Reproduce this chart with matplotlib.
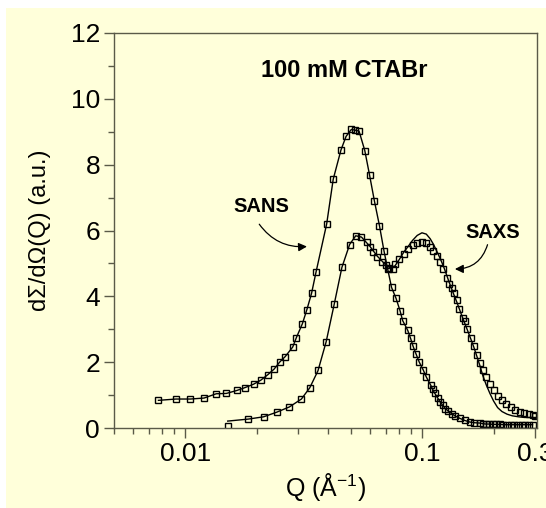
import matplotlib
matplotlib.use("Agg")
import matplotlib.pyplot as plt
from matplotlib.patches import FancyArrowPatch, Rectangle

# SANS data (Q in 1/A, intensity a.u.)
sans_q = [0.0077, 0.00913, 0.0105, 0.0120, 0.0135, 0.0149, 0.0165, 0.0179, 0.0194,
          0.0208, 0.0223, 0.0237, 0.0250, 0.0264, 0.0284, 0.0294, 0.0312, 0.0326,
          0.0341, 0.0356, 0.0395, 0.0421, 0.0454, 0.0477, 0.0502, 0.0519, 0.0541,
          0.0572, 0.0599, 0.0628, 0.0660, 0.0689, 0.0715, 0.0742, 0.0775, 0.0806,
          0.0827, 0.0868, 0.0893, 0.0915, 0.094, 0.097, 0.101, 0.104, 0.1086,
          0.1105, 0.113, 0.116, 0.119, 0.122, 0.125, 0.129, 0.133, 0.138, 0.1445,
          0.151, 0.159, 0.166, 0.175, 0.180, 0.186, 0.192, 0.198, 0.205, 0.212,
          0.220, 0.228, 0.236, 0.245, 0.254, 0.263, 0.272, 0.282, 0.292]
sans_i = [0.84, 0.88, 0.88, 0.91, 1.04, 1.05, 1.14, 1.23, 1.33,
          1.45, 1.62, 1.79, 2.00, 2.17, 2.46, 2.74, 3.17, 3.60,
          4.09, 4.73, 6.20, 7.56, 8.45, 8.86, 9.07, 9.05, 9.02,
          8.43, 7.69, 6.90, 6.14, 5.39, 4.82, 4.27, 3.94, 3.56,
          3.26, 2.97, 2.72, 2.48, 2.26, 2.01, 1.76, 1.55, 1.30,
          1.18, 1.05, 0.92, 0.79, 0.69, 0.59, 0.51, 0.44, 0.36, 0.29,
          0.23, 0.18, 0.16, 0.15, 0.13, 0.12, 0.12, 0.11, 0.11, 0.11,
          0.10, 0.10, 0.10, 0.10, 0.10, 0.10, 0.10, 0.10, 0.10]

# SAXS data
saxs_q = [0.0151, 0.0184, 0.0214, 0.0243, 0.0275, 0.0309, 0.0335, 0.0363, 0.0393,
          0.0425, 0.0458, 0.0494, 0.0524, 0.0554, 0.0582, 0.0601, 0.0621, 0.0646,
          0.0674, 0.0702, 0.0725, 0.0750, 0.0766, 0.0800, 0.0837, 0.0873, 0.0910,
          0.0952, 0.0997, 0.104, 0.108, 0.1115, 0.115, 0.119, 0.1228, 0.1268,
          0.130, 0.133, 0.136, 0.140, 0.1435, 0.148, 0.152, 0.155, 0.160, 0.165,
          0.170, 0.175, 0.180, 0.186, 0.193, 0.200, 0.208, 0.217, 0.226, 0.236,
          0.247, 0.258, 0.270, 0.282, 0.292, 0.300]
saxs_i = [0.05, 0.26, 0.33, 0.49, 0.64, 0.87, 1.23, 1.76, 2.62,
          3.77, 4.88, 5.57, 5.84, 5.79, 5.66, 5.51, 5.35, 5.20,
          5.05, 4.96, 4.86, 4.84, 4.98, 5.13, 5.30, 5.44, 5.57,
          5.63, 5.64, 5.61, 5.51, 5.37, 5.22, 5.04, 4.84, 4.55,
          4.38, 4.25, 4.09, 3.89, 3.62, 3.35, 3.24, 3.02, 2.74, 2.48,
          2.22, 1.98, 1.76, 1.55, 1.33, 1.14, 0.98, 0.84, 0.72, 0.63,
          0.55, 0.50, 0.46, 0.43, 0.40, 0.36]

# SAXS fit curve
saxs_fit_q = [0.0151, 0.0184, 0.0214, 0.0243, 0.0275, 0.0309, 0.0335, 0.0363, 0.0393,
              0.0425, 0.0458, 0.0494, 0.0524, 0.0554, 0.0601, 0.0646, 0.0702, 0.0735,
              0.0766, 0.0800, 0.0837, 0.0873, 0.0910, 0.0952, 0.0997, 0.104, 0.108,
              0.1115, 0.115, 0.119, 0.1228, 0.126, 0.130, 0.136, 0.140, 0.148, 0.155,
              0.160, 0.165, 0.170, 0.175, 0.180, 0.186, 0.193, 0.200, 0.208, 0.217,
              0.228, 0.240, 0.255, 0.270, 0.300]
saxs_fit_i = [0.21, 0.27, 0.34, 0.48, 0.64, 0.88, 1.22, 1.74, 2.62,
              3.76, 4.88, 5.58, 5.84, 5.80, 5.52, 5.22, 4.95, 4.86,
              4.92, 5.12, 5.35, 5.52, 5.70, 5.85, 5.93, 5.89, 5.75,
              5.58, 5.38, 5.15, 4.92, 4.70, 4.42, 4.05, 3.82, 3.35, 2.98,
              2.72, 2.46, 2.18, 1.90, 1.60, 1.32, 1.05, 0.82, 0.62, 0.50,
              0.42, 0.37, 0.34, 0.32, 0.32]

x_ticks = [0.01, 0.1, 0.3]
x_labels = ["0.01", "0.1", "0.3"]
y_ticks = [0, 2, 4, 6, 8, 10, 12]

cream = "#ffffda"
spine_col = "#5a5a48"

plt.rcParams['font.family'] = ['Liberation Sans', 'DejaVu Sans']

fig = plt.figure(figsize=(5.46, 5.08), dpi=100, facecolor=cream)
# white strips on the left and top edge
fig.patches.append(Rectangle((0, 0), 6 / 546, 1, transform=fig.transFigure,
                             facecolor="white", edgecolor="none", zorder=0))
fig.patches.append(Rectangle((0, 1 - 8 / 508), 1, 8 / 508, transform=fig.transFigure,
                             facecolor="white", edgecolor="none", zorder=0))

ax = fig.add_axes([114 / 546, 1 - 428 / 508, (537 - 114) / 546, (428 - 33) / 508])
ax.set_facecolor(cream)

ax.plot(sans_q, sans_i, color="black", lw=1.0)
ax.plot(sans_q, sans_i, ls="none", marker="s", ms=5, mfc="none", mec="black", mew=1.0)
ax.plot(saxs_fit_q, saxs_fit_i, color="black", lw=1.0)
ax.plot(saxs_q, saxs_i, ls="none", marker="s", ms=5, mfc="none", mec="black", mew=1.0)

ax.set_xscale("log")
ax.set_xlim(0.005, 0.305)
ax.set_ylim(0, 12)
ax.set_xticks(x_ticks)
ax.set_xticklabels(x_labels)
ax.set_yticks(y_ticks)
ax.set_yticks([1, 3, 5, 7, 9, 11], minor=True)

for s in ax.spines.values():
    s.set_color(spine_col)
    s.set_linewidth(1.0)
ax.tick_params(which="major", direction="out", length=7, width=1, color=spine_col,
               labelsize=19, pad=3)
ax.tick_params(which="minor", direction="out", length=4, width=1, color=spine_col)
ax.tick_params(axis="x", which="major", pad=3)

ax.set_xlabel("Q (Å$^{\\mathregular{-1}}$)", fontsize=18, labelpad=4)
ax.set_ylabel("dΣ/dΩ(Q) (a.u.)", fontsize=17, labelpad=14)

ax.text(0.544, 0.906, "100 mM CTABr", transform=ax.transAxes, fontsize=17,
        fontweight="bold", ha="center", va="center")
ax.text(0.021, 6.74, "SANS", fontsize=14.5, fontweight="bold", ha="center", va="center")
ax.text(0.199, 5.95, "SAXS", fontsize=14.5, fontweight="bold", ha="center", va="center")

a1 = FancyArrowPatch((0.0202, 6.26), (0.0335, 5.52), connectionstyle="arc3,rad=0.3",
                     arrowstyle="-|>,head_length=5,head_width=2.5", color="black", lw=0.9)
ax.add_patch(a1)
a2 = FancyArrowPatch((0.19, 5.65), (0.1337, 4.83), connectionstyle="arc3,rad=-0.4",
                     arrowstyle="-|>,head_length=5,head_width=2.5", color="black", lw=0.9)
ax.add_patch(a2)

fig.savefig("out.png", dpi=100, facecolor=cream)
